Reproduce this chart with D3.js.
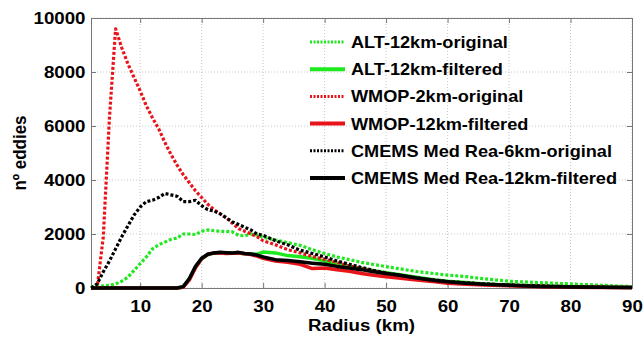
<!DOCTYPE html>
<html>
<head>
<meta charset="utf-8">
<script src="https://cdn.jsdelivr.net/npm/d3@7"></script>
<style>
  body { margin: 0; background: #fff; }
  text { font-family: "Liberation Sans", Arial, sans-serif; font-weight: bold; fill: #000; }
</style>
</head>
<body>
<div id="chart"></div>
<script>
// radius bins (km)
const radius = [2,3,4,5,6,7,8,9,10,11,12,13,14,15,16,17,18,19,20,21,22,23,24,25,26,27,28,29,30,32,34,36,38,40,42,44,46,48,50,52,55,58,60,63,66,70,75,80,85,90];

const altOriginal = [50,60,80,100,150,250,400,650,900,1150,1450,1600,1700,1800,1850,2000,2000,1980,2100,2150,2120,2100,2100,2080,1950,1930,2000,1970,1880,1780,1680,1580,1420,1280,1150,1050,950,870,790,720,610,530,480,420,340,250,200,150,100,50];
const altFiltered = [0,0,0,0,0,0,0,0,0,0,0,0,0,0,0,40,330,780,1080,1230,1290,1300,1300,1290,1300,1270,1260,1250,1330,1300,1200,1160,1100,1000,880,800,720,640,570,500,400,300,250,200,150,110,70,45,30,20];
const wmopOriginal = [0,0,1900,6300,9600,8900,8300,7800,7300,6750,6300,5900,5400,4950,4550,4200,3900,3600,3350,3100,2900,2750,2600,2400,2200,2100,2000,1900,1750,1600,1420,1300,1170,1060,950,820,720,620,540,460,360,280,220,170,130,100,70,50,30,20];
const wmopFiltered = [0,0,0,0,0,0,0,0,0,0,0,0,0,0,0,30,300,750,1080,1250,1300,1300,1280,1290,1300,1270,1240,1180,1100,1000,950,880,720,740,680,620,540,470,420,370,300,230,180,140,110,80,50,30,20,10];
const cmemsOriginal = [0,150,600,1000,1450,1900,2300,2700,3000,3200,3250,3350,3500,3450,3400,3200,3200,3250,3050,2900,2850,2750,2600,2450,2350,2250,2150,2000,1950,1750,1600,1400,1280,1150,1000,880,760,650,550,480,370,290,240,190,150,110,80,50,30,20];
const cmemsFiltered = [0,0,0,0,0,0,0,0,0,0,0,0,0,0,0,50,350,800,1100,1250,1300,1320,1310,1300,1320,1280,1260,1220,1150,1050,1020,970,920,880,800,740,680,600,540,480,370,280,230,180,140,100,60,40,25,15];

const seriesNames = ["ALT-12km-original","ALT-12km-filtered","WMOP-2km-original","WMOP-12km-filtered","CMEMS Med Rea-6km-original","CMEMS Med Rea-12km-filtered"];
const seriesValues = [altOriginal, altFiltered, wmopOriginal, wmopFiltered, cmemsOriginal, cmemsFiltered];
const seriesColors = ["#1ee81e","#1ee81e","#e8141a","#e8141a","#000","#000"];
const seriesDotted = [true,false,true,false,true,false];

const xTicks = [10,20,30,40,50,60,70,80,90];
const yTicks = [0,2000,4000,6000,8000,10000];

const totalWidth = 644, totalHeight = 338;
const margin = {top: 18, right: 12, bottom: 50, left: 91};
const width = totalWidth - margin.left - margin.right;
const height = totalHeight - margin.top - margin.bottom;
// the reference text is a bit wider than Liberation Sans
const stretch = "scale(1.1,1)";

const svg = d3.select("#chart").append("svg")
  .attr("width", totalWidth)
  .attr("height", totalHeight);
const g = svg.append("g")
  .attr("transform", "translate(" + margin.left + "," + margin.top + ")");

const x = d3.scaleLinear().domain([2, 90]).range([0, width]);
const y = d3.scaleLinear().domain([0, 10000]).range([height, 0]);

// grid
g.append("g").selectAll("line").data(xTicks).enter().append("line")
  .attr("x1", d => x(d)).attr("x2", d => x(d)).attr("y1", 0).attr("y2", height)
  .attr("stroke", "#c8c8c8").attr("stroke-width", 1).attr("stroke-dasharray", "1,2");
g.append("g").selectAll("line").data(yTicks).enter().append("line")
  .attr("x1", 0).attr("x2", width).attr("y1", d => y(d)).attr("y2", d => y(d))
  .attr("stroke", "#c8c8c8").attr("stroke-width", 1).attr("stroke-dasharray", "1,2");

// axes with inside ticks on all four sides
g.append("g").attr("transform", "translate(0," + height + ")")
  .call(d3.axisBottom(x).tickValues(xTicks).tickFormat(d3.format("d")).tickSizeInner(-5).tickSizeOuter(0).tickPadding(12));
g.append("g")
  .call(d3.axisLeft(y).tickValues(yTicks).tickFormat(d3.format("d")).tickSizeInner(-5).tickSizeOuter(0).tickPadding(5));
g.append("g").call(d3.axisTop(x).tickValues(xTicks).tickSizeInner(-5).tickSizeOuter(0).tickFormat(""));
g.append("g").attr("transform", "translate(" + width + ",0)")
  .call(d3.axisRight(y).tickValues(yTicks).tickSizeInner(-5).tickSizeOuter(0).tickFormat(""));
g.selectAll(".domain").attr("stroke", "#777");
g.selectAll(".tick line").attr("stroke", "#777");
g.selectAll(".tick text")
  .style("font-size", "17px")
  .attr("fill", "#000")
  .attr("transform", stretch);

// curves
const line = d3.line()
  .x((d, i) => x(radius[i]))
  .y(d => y(d));

seriesValues.forEach((vals, k) => {
  g.append("path")
    .datum(vals)
    .attr("d", line)
    .attr("fill", "none")
    .attr("stroke", seriesColors[k])
    .attr("stroke-width", seriesDotted[k] ? 3.2 : 3.5)
    .attr("stroke-dasharray", seriesDotted[k] ? "3,2" : null)
    .attr("stroke-linejoin", "round");
});

// legend
const legend = svg.append("g").attr("transform", "translate(310,42)");
seriesNames.forEach((name, k) => {
  const row = legend.append("g").attr("transform", "translate(0," + (k * 27.2) + ")");
  row.append("line")
    .attr("x1", 0).attr("x2", 35).attr("y1", 0).attr("y2", 0)
    .attr("stroke", seriesColors[k])
    .attr("stroke-width", seriesDotted[k] ? 3 : 4)
    .attr("stroke-dasharray", seriesDotted[k] ? "2,1.5" : null);
  row.append("text")
    .attr("transform", "translate(41,6) " + stretch)
    .style("font-size", "16.5px")
    .text(name);
});

// axis titles
svg.append("text")
  .attr("transform", "translate(" + (margin.left + width / 2) + ",331) " + stretch)
  .attr("text-anchor", "middle")
  .style("font-size", "17px")
  .text("Radius (km)");
svg.append("text")
  .attr("transform", "translate(26," + (margin.top + height / 2) + ") rotate(-90) scale(1,1.1)")
  .attr("text-anchor", "middle")
  .style("font-size", "17px")
  .text("nº eddies");
</script>
</body>
</html>
